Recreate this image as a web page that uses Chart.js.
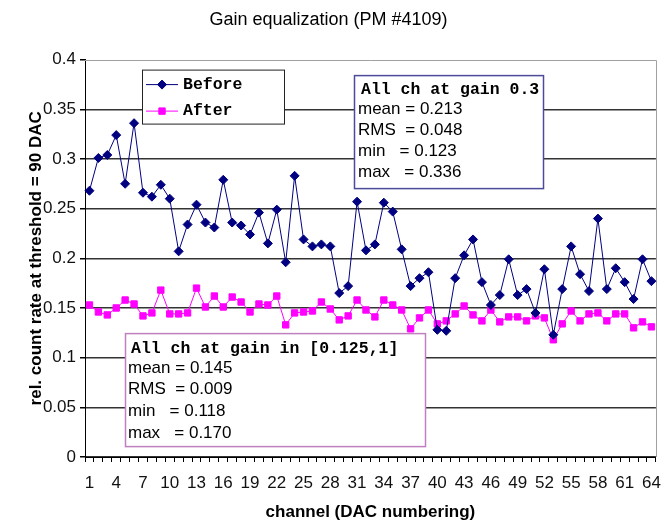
<!DOCTYPE html>
<html>
<head>
<meta charset="utf-8">
<script src="https://cdn.jsdelivr.net/npm/chart.js@4.4.1/dist/chart.umd.min.js"></script>
<style>
html,body{margin:0;padding:0;background:#fff;}
#wrap{width:672px;height:525px;}
</style>
</head>
<body>
<div id="wrap"><canvas id="c" width="672" height="525"></canvas></div>
<script>
const channels = ['1','2','3','4','5','6','7','8','9','10','11','12','13','14','15','16',
  '17','18','19','20','21','22','23','24','25','26','27','28','29','30','31','32',
  '33','34','35','36','37','38','39','40','41','42','43','44','45','46','47','48',
  '49','50','51','52','53','54','55','56','57','58','59','60','61','62','63','64'];

const shownTicks = ['1','4','7','10','13','16','19','22','25','28','31','34','37','40',
  '43','46','49','52','55','58','61','64'];

const before = [0.268,0.301,0.304,0.324,0.275,0.336,0.266,0.262,0.274,0.260,
  0.207,0.234,0.254,0.236,0.231,0.279,0.236,0.233,0.224,0.246,
  0.215,0.249,0.196,0.283,0.219,0.212,0.214,0.212,0.165,0.172,
  0.257,0.208,0.214,0.256,0.247,0.209,0.172,0.180,0.186,0.128,
  0.127,0.180,0.203,0.219,0.176,0.153,0.163,0.199,0.163,0.169,
  0.145,0.189,0.123,0.169,0.212,0.184,0.167,0.240,0.169,0.190,
  0.176,0.159,0.199,0.177];

const after = [0.153,0.146,0.143,0.150,0.158,0.154,0.142,0.145,0.168,0.144,
  0.144,0.145,0.170,0.151,0.162,0.151,0.161,0.156,0.146,0.154,
  0.153,0.162,0.133,0.145,0.146,0.147,0.156,0.149,0.138,0.142,
  0.158,0.148,0.141,0.158,0.153,0.148,0.129,0.140,0.148,0.134,
  0.137,0.144,0.152,0.143,0.137,0.148,0.136,0.141,0.141,0.137,
  0.142,0.140,0.118,0.134,0.147,0.137,0.144,0.145,0.137,0.144,
  0.144,0.130,0.136,0.131];

const yTicks = [0,0.05,0.1,0.15,0.2,0.25,0.3,0.35,0.4];

const statsBefore = ['All ch at gain 0.3','mean = 0.213','RMS  = 0.048','min   = 0.123','max   = 0.336'];
const statsAfter = ['All ch at gain in [0.125,1]','mean = 0.145','RMS  = 0.009','min   = 0.118','max   = 0.170'];

const SANS = "'Liberation Sans', Arial, sans-serif";
const MONO = "'Liberation Mono', 'Courier New', monospace";
Chart.defaults.font.family = SANS;
Chart.defaults.color = '#111';

function drawMarker(ctx, style, x, y, r, color) {
  ctx.fillStyle = color;
  ctx.strokeStyle = color;
  ctx.lineWidth = 1;
  ctx.beginPath();
  if (style === 'rectRot') {
    ctx.moveTo(x - r, y); ctx.lineTo(x, y - r); ctx.lineTo(x + r, y); ctx.lineTo(x, y + r);
    ctx.closePath();
  } else {
    const s = r * Math.SQRT1_2;
    ctx.rect(x - s, y - s, 2 * s, 2 * s);
  }
  ctx.fill(); ctx.stroke();
}

function drawBox(ctx, x, y, w, h, border, lines, tx, ty, dy) {
  ctx.save();
  ctx.fillStyle = '#fff';
  ctx.fillRect(x, y, w, h);
  ctx.strokeStyle = border;
  ctx.lineWidth = 1.5;
  ctx.strokeRect(x + 0.5, y + 0.5, w, h);
  ctx.fillStyle = '#000';
  ctx.textBaseline = 'middle';
  ctx.textAlign = 'left';
  lines.forEach((t, i) => {
    if (i === 0) {
      ctx.font = 'bold 16.5px ' + MONO;
      ctx.fillText(t, tx + 3, ty);
    } else {
      ctx.font = '17px ' + SANS;
      ctx.fillText(t, tx, ty + 19.5 + (i - 1) * dy);
    }
  });
  ctx.restore();
}

const overlay = {
  id: 'overlay',
  beforeDatasetsDraw(chart) {
    const {ctx, chartArea: a} = chart;
    ctx.save();
    ctx.strokeStyle = '#a0a0a0';
    ctx.lineWidth = 1;
    ctx.beginPath();
    const t = Math.round(a.top) + 0.5, r = Math.round(a.right) + 0.5;
    ctx.moveTo(a.left, t); ctx.lineTo(r, t); ctx.lineTo(r, a.bottom);
    ctx.stroke();
    ctx.restore();
  },
  afterDatasetsDraw(chart) {
    const {ctx, chartArea: a} = chart;
    const L = a.left, T = a.top;
    // legend box
    ctx.save();
    const lx = L + 57, ly = T + 10, lw = 142, lh = 54;
    ctx.fillStyle = '#fff';
    ctx.fillRect(lx, ly, lw, lh);
    ctx.strokeStyle = '#222';
    ctx.lineWidth = 1;
    ctx.strokeRect(lx + 0.5, ly + 0.5, lw, lh);
    chart.data.datasets.forEach((ds, i) => {
      const yy = ly + 15 + i * 26.5;
      ctx.strokeStyle = ds.borderColor;
      ctx.lineWidth = 1;
      ctx.beginPath(); ctx.moveTo(lx + 4, yy); ctx.lineTo(lx + 36, yy); ctx.stroke();
      drawMarker(ctx, ds.pointStyle, lx + 20, yy, ds.pointRadius, ds.backgroundColor);
      ctx.fillStyle = '#000';
      ctx.font = 'bold 16.5px ' + MONO;
      ctx.textBaseline = 'middle';
      ctx.fillText(ds.label, lx + 41, yy);
    });
    ctx.restore();
    // stats boxes
    drawBox(ctx, L + 269, T + 15.5, 189, 113, '#4d4a9a', statsBefore, L + 273, T + 30, 21.2);
    drawBox(ctx, L + 40, T + 273.5, 300, 113, '#c080c0', statsAfter, L + 43, T + 289, 21.6);
  }
};

new Chart(document.getElementById('c'), {
  type: 'line',
  data: {
    labels: channels,
    datasets: [
      {
        label: 'Before', data: before,
        borderColor: '#000080', backgroundColor: '#000080',
        borderWidth: 1, pointStyle: 'rectRot', pointRadius: 4.5,
        pointBorderWidth: 1, pointHoverRadius: 4.5, tension: 0
      },
      {
        label: 'After', data: after,
        borderColor: '#ff00ff', backgroundColor: '#ff00ff',
        borderWidth: 1, pointStyle: 'rect', pointRadius: 4.5,
        pointBorderWidth: 1, pointHoverRadius: 4.5, tension: 0
      }
    ]
  },
  options: {
    responsive: false,
    animation: false,
    devicePixelRatio: 1,
    layout: { padding: { left: 0, right: 15, top: 0, bottom: 0 } },
    plugins: {
      legend: { display: false },
      tooltip: { enabled: false },
      title: {
        display: true,
        text: 'Gain equalization (PM #4109)',
        color: '#000',
        font: { size: 18, weight: 'normal', family: SANS },
        padding: { top: 9, bottom: 29 }
      }
    },
    scales: {
      x: {
        type: 'category',
        offset: true,
        grid: { offset: true, drawOnChartArea: false, drawTicks: true, tickLength: 5, color: '#000', lineWidth: 1 },
        border: { display: true, color: '#000', width: 1 },
        ticks: {
          autoSkip: false, maxRotation: 0, minRotation: 0, padding: 11,
          color: '#111', font: { size: 17 },
          callback: function (v) {
            const l = this.getLabelForValue(v);
            return shownTicks.includes(l) ? l : '';
          }
        },
        title: {
          display: true, text: 'channel (DAC numbering)', color: '#000',
          font: { size: 17, weight: 'bold' }, padding: { top: 0, bottom: 2 }
        },
        afterFit: s => { s.height = 68; }
      },
      y: {
        min: 0, max: 0.4,
        afterBuildTicks: s => { s.ticks = yTicks.map(v => ({ value: v })); },
        ticks: {
          padding: 4, color: '#111', font: { size: 17 },
          callback: v => String(Math.round(v * 100) / 100)
        },
        grid: {
          color: c => (c.tick && Math.abs(c.tick.value - 0.4) < 1e-9) ? 'rgba(0,0,0,0)' : '#333',
          tickColor: '#000', tickLength: 5, lineWidth: 1.5
        },
        border: { display: true, color: '#000', width: 1 },
        title: {
          display: true, text: 'rel. count rate at threshold = 90 DAC', color: '#000',
          font: { size: 17, weight: 'bold' }, padding: { top: 26, bottom: 0 }
        },
        afterFit: s => { s.width = 85; }
      }
    }
  },
  plugins: [overlay]
});
</script>
</body>
</html>
